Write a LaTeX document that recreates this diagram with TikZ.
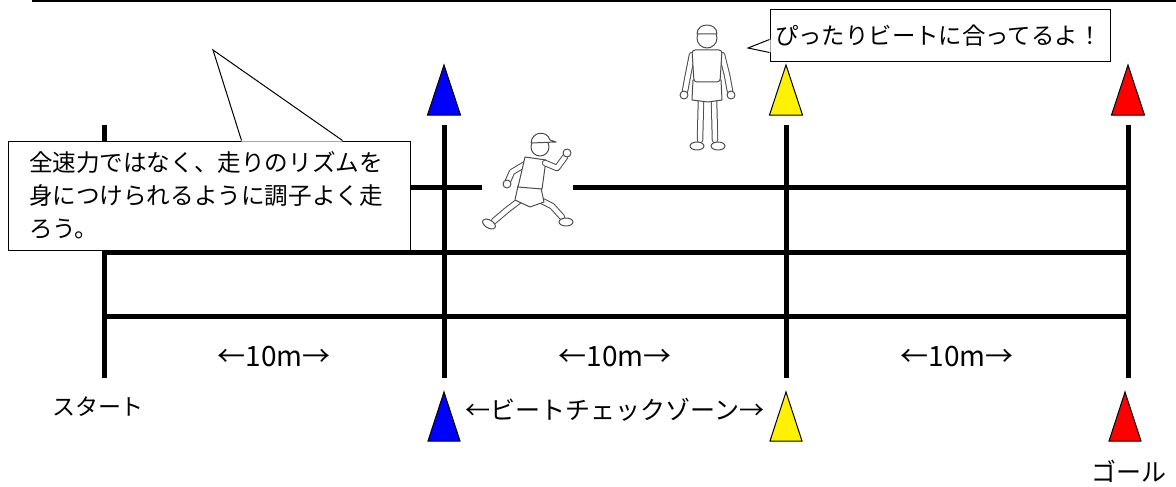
\documentclass[tikz,border=0pt]{standalone}
\usepackage{fontspec}
\setmainfont{Noto Sans CJK JP}
\usepackage{tikz}
\usetikzlibrary{calc}

\begin{document}
\begin{tikzpicture}[x=1pt, y=-1pt,
    post/.style={line width=5pt},
    lane/.style={line width=5pt},
    cone/.style={draw=black, line width=1pt, line join=miter},
    callout/.style={draw=black, line width=1pt, fill=white, align=left},
    label/.style={inner sep=0pt},
    figline/.style={draw=gray!60!black, line width=1pt, fill=white,
                    line join=round, line cap=round},
    limb/.style={draw=gray!60!black, line width=1pt, double=white,
                 double distance=4.5pt, line join=round, line cap=round}
]
    \useasboundingbox (0,0) rectangle (1176,487);

    % rule along the top
    \draw[line width=2pt] (32,1) -- (1176,1);

    % the four posts: start, check zone, check zone, goal
    \foreach \n/\px in {0/104, 1/444, 2/786, 3/1128} {
        \coordinate (p\n) at (\px,0);
        \draw[post] (\px,125) -- (\px,378);
    }

    % lanes (the first one leaves room for the runner)
    \draw[lane] (104,187) -- (482,187);
    \draw[lane] (573,187) -- (1128,187);
    \draw[lane] (104,252) -- (1128,252);
    \draw[lane] (104,316) -- (1128,316);

    % cones at the top
    \foreach \cx/\col in {444/blue, 786/yellow, 1128/red}
        \filldraw[cone, fill=\col] (\cx,65) -- (\cx+16.5,115) -- (\cx-16.5,115) -- cycle;
    % cones at the bottom
    \foreach \cx/\col in {444/blue, 786/yellow, 1125/red}
        \filldraw[cone, fill=\col] (\cx,392) -- (\cx+16,441) -- (\cx-16,441) -- cycle;

    % distances and names
    \foreach \n/\dx in {1/274, 2/615, 3/957}
        \node[label, font=\fontsize{28}{30}\selectfont] (d\n) at (\dx,357) {←10m→};
    \node[label, font=\fontsize{23}{26}\selectfont] (start) at (98,407) {スタート};
    \node[label, font=\fontsize{25}{27}\selectfont] (zone) at (615,410) {←ビートチェックゾーン→};
    \node[label, font=\fontsize{25}{27}\selectfont] (goal) at (1129,471) {ゴール};

    % advice box with its pointer
    \node[callout, minimum width=402pt, minimum height=109pt, text width=360pt,
          inner xsep=21pt, font=\fontsize{23.6}{33}\selectfont] (msgA) at (209,195.5)
        {全速力ではなく、走りのリズムを\\身につけられるように調子よく走\\ろう。};
    \coordinate (tipA) at (213,50);
    \coordinate (a1) at ([xshift=234pt]msgA.north west);
    \coordinate (a2) at ([xshift=335pt]msgA.north west);
    \fill[white] ([yshift=-1pt]a1) -- (tipA) -- ([yshift=-1pt]a2) -- cycle;
    \draw[line width=1pt] (a1) -- (tipA) -- (a2);

    % voice of the checker
    \node[callout, minimum width=340pt, minimum height=52pt, text width=330pt,
          inner xsep=5pt, font=\fontsize{23.4}{26}\selectfont] (msgB) at (940,36)
        {ぴったりビートに合ってるよ！};
    \coordinate (tipB) at (748,48);
    \coordinate (b1) at ([yshift=-30pt]msgB.north west);
    \coordinate (b2) at ([yshift=-43pt]msgB.north west);
    \fill[white] ([xshift=1pt]b1) -- (tipB) -- ([xshift=1pt]b2) -- cycle;
    \draw[line width=1pt] (b1) -- (tipB) -- (b2);

    % runner
    \draw[limb] (524,197) -- (507,210) -- (494,221);
    \draw[figline] (489,224) ellipse [x radius=7, y radius=4, rotate=-30];
    \draw[limb] (527,163) -- (512,172) -- (508,181);
    \draw[figline] (507,184) circle (4);
    \draw[limb] (536,198) -- (552,206) -- (562,217);
    \draw[figline] (566,222) ellipse [x radius=7, y radius=4];
    \draw[figline] (518,186) -- (541,188) -- (544,202) -- (530,207) -- (515,200) -- cycle;
    \draw[figline] (525,157) -- (546,160) -- (542,189) -- (518,187) -- cycle;
    \draw[limb] (545,163) -- (557,168) -- (565,157);
    \draw[figline] (567,153) circle (4);
    \draw[figline] (540,147) circle (9);
    \draw[figline] (531,143) .. controls (532,131) and (547,130) .. (550,140) -- (556,142) -- cycle;

    % checker standing by the track
    \draw[limb] (701,99) -- (700,140);
    \draw[limb] (714,99) -- (715,140);
    \draw[figline] (697,146) ellipse [x radius=7, y radius=4];
    \draw[figline] (718,146) ellipse [x radius=7, y radius=4];
    \draw[limb] (692,55) -- (688,75) -- (685,91);
    \draw[limb] (722,55) -- (727,75) -- (730,91);
    \draw[figline] (684,95) circle (4);
    \draw[figline] (731,95) circle (4);
    \draw[figline] (693,80) -- (721,80) -- (722,100) -- (708,102) -- (692,100) -- cycle;
    \draw[figline, rounded corners=3pt] (692,50) -- (722,50) -- (720,82) -- (694,82) -- cycle;
    \draw[figline] (707,38) circle (10);
    \draw[figline] (697,34) .. controls (697,22) and (717,22) .. (717,34) -- cycle;
\end{tikzpicture}
\end{document}
